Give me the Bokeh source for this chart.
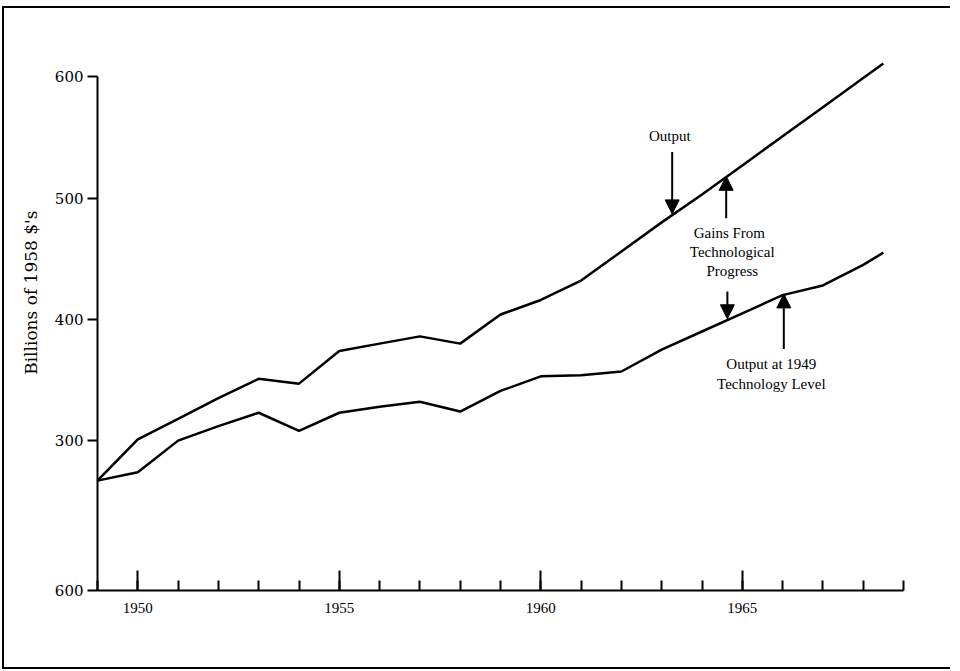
from bokeh.plotting import figure
from bokeh.models import (FixedTicker, Range1d, Arrow, NormalHead, ColumnDataSource, Title)
from bokeh.core.properties import value
from bokeh.embed import file_html
from bokeh.resources import INLINE

# ---- data ----
years = [1949, 1950, 1951, 1952, 1953, 1954, 1955, 1956, 1957, 1958, 1959,
         1960, 1961, 1962, 1963, 1964, 1965, 1966, 1967, 1968, 1968.5]
output = [267, 301, 318, 335, 351, 347, 374, 380, 386, 380, 404,
          416, 432, 456, 480, 503, 527, 551, 575, 599, 611]
output_1949_tech = [267, 274, 300, 312, 323, 308, 323, 328, 332, 324, 341,
                    353, 354, 357, 375, 390, 405, 420, 428, 445, 455]

y_ticks = [176.4, 300, 400, 500, 600]
y_tick_labels = {176.4: "600", 300: "300", 400: "400", 500: "500", 600: "600"}
x_major = [1950, 1955, 1960, 1965]
x_minor = list(range(1949, 1970))
y_title = "Billions of 1958 $'s"

FONT = "Liberation Serif"
FONT_WIDE = "DejaVu Serif"

p = figure(width=948, height=663, output_backend="svg", toolbar_location=None,
           x_range=Range1d(1949, 1969), y_range=Range1d(176.4, 630),
           min_border_left=93, min_border_right=49, min_border_top=32,
           min_border_bottom=81,
           styles={"border-left": "2px solid black", "border-top": "2px solid black",
                   "border-bottom": "2px solid black",
                   "margin-left": "2px", "margin-top": "6px"})
p.grid.visible = False
p.outline_line_color = None
p.background_fill_color = "white"
p.border_fill_color = "white"

# x axis
xa = p.xaxis[0]
xa.ticker = FixedTicker(ticks=x_major, minor_ticks=x_minor)
xa.bounds = (1949, 1969)
xa.axis_line_width = 2
xa.axis_line_color = "black"
xa.major_tick_in = 20
xa.major_tick_out = 0
xa.minor_tick_in = 10
xa.minor_tick_out = 0
xa.major_tick_line_width = 2
xa.minor_tick_line_width = 2
xa.major_tick_line_color = "black"
xa.minor_tick_line_color = "black"
xa.major_label_text_font = FONT
xa.major_label_text_font_size = "15px"
xa.major_label_text_color = "black"
xa.major_label_standoff = 12

# y axis
ya = p.yaxis[0]
ya.ticker = FixedTicker(ticks=y_ticks, minor_ticks=[])
ya.bounds = (176.4, 600)
ya.major_label_overrides = y_tick_labels
ya.axis_line_width = 2
ya.axis_line_color = "black"
ya.major_tick_in = 0
ya.major_tick_out = 10
ya.major_tick_line_width = 2
ya.major_tick_line_color = "black"
ya.minor_tick_line_color = None
ya.major_label_text_font = FONT_WIDE
ya.major_label_text_font_size = "15px"
ya.major_label_text_color = "black"
ya.major_label_standoff = 4

# y axis title, left of the axis and raised like the reference
p.add_layout(Title(text=y_title, align="right", offset=170,
                   text_font=FONT_WIDE, text_font_size="17px",
                   text_font_style="normal", text_color="black", standoff=22),
             "left")

src = ColumnDataSource(dict(year=years, output=output, tech=output_1949_tech))
p.line("year", "output", source=src, line_color="black", line_width=2.5)
p.line("year", "tech", source=src, line_color="black", line_width=2.5)

# annotations
labels_x = [1963.2, 1964.68, 1964.75, 1964.75, 1965.72, 1965.72]
labels_y = [551, 471.5, 455.5, 439.5, 363, 347]
labels_t = ["Output", "Gains From", "Technological", "Progress",
            "Output at 1949", "Technology Level"]
p.text(x=labels_x, y=labels_y, text=labels_t, text_font=value(FONT),
       text_font_size="15px", text_align="center", text_baseline="middle",
       text_color="black")

arrows = [  # (x, y_tail, y_head)
    (1963.26, 538, 487),
    (1964.6, 483.5, 518),
    (1964.63, 423, 400.5),
    (1966.03, 375.5, 421),
]
for ax_, y0, y1 in arrows:
    p.add_layout(Arrow(end=NormalHead(size=14, fill_color="black", line_color="black"),
                       x_start=ax_, y_start=y0, x_end=ax_, y_end=y1,
                       line_width=2, line_color="black"))

open("out.html", "w").write(file_html(p, INLINE))
